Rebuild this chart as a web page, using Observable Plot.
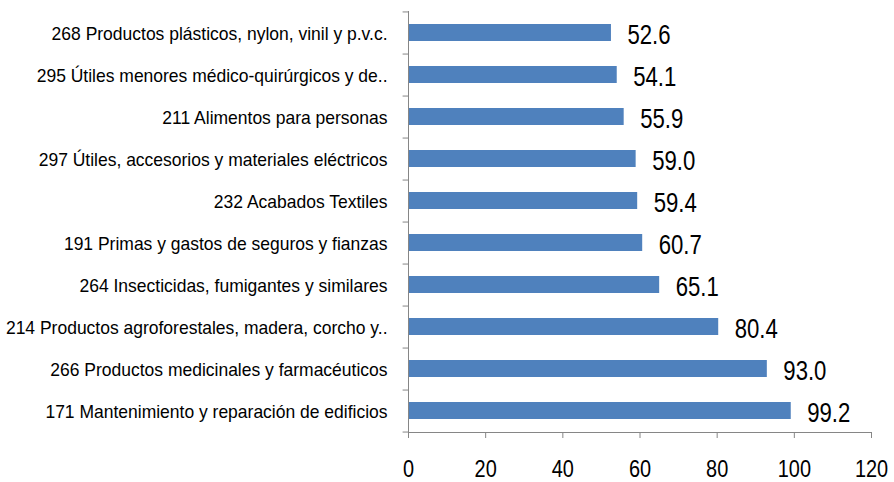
<!DOCTYPE html>
<html>
<head>
<meta charset="utf-8">
<script src="https://cdn.jsdelivr.net/npm/d3@7"></script>
<script src="https://cdn.jsdelivr.net/npm/@observablehq/plot@0.6"></script>
<style>
  html, body { margin: 0; padding: 0; background: #fff; }
</style>
</head>
<body>
<div id="chart"></div>
<script>
const categories = [
  "268 Productos plásticos, nylon, vinil y p.v.c.",
  "295 Útiles menores médico-quirúrgicos y de..",
  "211 Alimentos para personas",
  "297 Útiles, accesorios y materiales eléctricos",
  "232 Acabados Textiles",
  "191 Primas y gastos de seguros y fianzas",
  "264 Insecticidas, fumigantes y similares",
  "214 Productos agroforestales, madera, corcho y..",
  "266 Productos medicinales y farmacéuticos",
  "171 Mantenimiento y reparación de edificios"
];
const values = [52.6, 54.1, 55.9, 59.0, 59.4, 60.7, 65.1, 80.4, 93.0, 99.2];
const xTicks = [0, 20, 40, 60, 80, 100, 120];

const data = categories.map((c, i) => ({category: c, value: values[i]}));

const W = 894, H = 482;
const mT = 11, mB = 50, mL = 408, mR = 23;
const step = (H - mT - mB) / categories.length;
const axisColor = "#868686";
const font = '"Liberation Sans", Arial, sans-serif';

const chart = Plot.plot({
  width: W,
  height: H,
  marginTop: mT,
  marginBottom: mB,
  marginLeft: mL,
  marginRight: mR,
  style: {fontFamily: font, background: "#fff"},
  x: {domain: [0, 120]},
  y: {domain: categories, paddingInner: 0.6, paddingOuter: 0.3, align: 0.5},
  marks: [
    Plot.barX(data, {x: "value", y: "category", fill: "#4F81BD"}),
    Plot.frame({anchor: "left", stroke: axisColor}),
    Plot.frame({anchor: "bottom", stroke: axisColor}),
    Plot.ruleY(data, {y: "category", x1: -1.4, x2: 0, dy: step / 2, stroke: axisColor}),
    Plot.ruleY([data[0]], {y: "category", x1: -1.4, x2: 0, dy: -step / 2, stroke: axisColor}),
    Plot.text(data, {x: 0, y: "category", text: "category", textAnchor: "end", dx: -21, dy: 1, fontSize: 18.5, fill: "#000"}),
    Plot.text(data, {x: "value", y: "category", text: d => d.value.toFixed(1), textAnchor: "start", dx: 16, dy: 2, fontSize: 27, fill: "#000"}),
    Plot.axisX({ticks: xTicks, tickSize: 6, tickPadding: 21, fontSize: 24, stroke: axisColor, color: "#000", label: null, tickFormat: d => String(d)}),
    Plot.axisY({ticks: [], label: null})
  ]
});
document.getElementById("chart").appendChild(chart);

// condense text horizontally (reference uses a narrow face)
const catSet = new Set(categories);
const valSet = new Set(values.map(v => v.toFixed(1)));
const tickSet = new Set(xTicks.map(String));
chart.querySelectorAll("text").forEach(t => {
  const s = t.textContent;
  let f = null;
  if (catSet.has(s)) f = 0.945;
  else if (valSet.has(s)) f = 0.82;
  else if (tickSet.has(s)) f = 0.83;
  if (f == null) return;
  const w = t.getComputedTextLength();
  if (w > 0) {
    t.setAttribute("textLength", (w * f).toFixed(2));
    t.setAttribute("lengthAdjust", "spacingAndGlyphs");
  }
});
</script>
</body>
</html>
